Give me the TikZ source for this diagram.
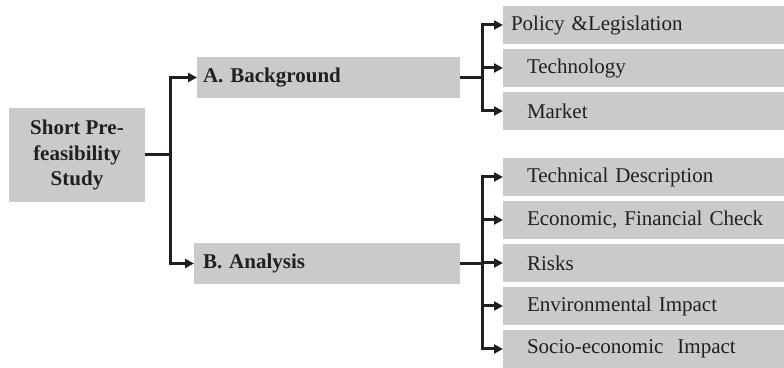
\documentclass[tikz,border=0pt]{standalone}
\usepackage{fontspec}
\setmainfont{Liberation Serif}
\usetikzlibrary{arrows.meta, positioning}
\definecolor{boxGray}{HTML}{C9CACC}
\definecolor{inkDark}{HTML}{231F20}
\tikzset{
  arrowK/.style={-{Triangle[length=4.5pt, width=4.5pt]}, inkDark, line width=1.5pt},
  boxMain/.style={rectangle, fill=boxGray, text=inkDark, align=center,
                  font=\bfseries\fontsize{10.5}{12.8}\selectfont, outer sep=0pt,
                  minimum width=68pt, minimum height=47pt, inner sep=0pt},
  boxMid/.style={rectangle, fill=boxGray, text=inkDark, align=left,
                 font=\bfseries\fontsize{10.5}{12.8}\selectfont, outer sep=0pt,
                 text width=123.5pt, inner xsep=4pt, inner ysep=0pt,
                 minimum height=20.5pt, anchor=west},
  boxSub/.style={rectangle, fill=boxGray, text=inkDark, align=left,
                 font=\fontsize{10.5}{12.8}\selectfont, outer sep=0pt,
                 text width=130pt, inner xsep=12pt, inner ysep=0pt,
                 minimum height=19pt},
}
\begin{document}
\begin{tikzpicture}[x=0.5pt, y=-0.5pt, node distance=2.5pt]
    \useasboundingbox (0,0) rectangle (784,368);
    \node[boxMain] (study) at (77,155) {Short Pre-\\feasibility\\Study};
    \node[boxMid, inner xsep=3pt, text width=125.5pt] (bg) at (197,77.5) {A. Background};
    \node[boxMid, inner xsep=4.5pt, text width=124pt] (an) at (194,263.5) {B. Analysis};
    % background topics
    \node[boxSub, anchor=north west, inner xsep=4pt, text width=146pt] (pol) at (503,6) {Policy \&Legislation};
    \node[boxSub, below=of pol.south west, anchor=north west] (tec) {Technology};
    \node[boxSub, below=of tec] (mkt) {Market};
    % analysis topics
    \node[boxSub, anchor=north west] (desc) at (503,158) {Technical Description};
    \node[boxSub, below=of desc] (econ) {Economic, Financial Check};
    \node[boxSub, below=of econ] (risk) {Risks};
    \node[boxSub, below=of risk] (env)  {Environmental Impact};
    \node[boxSub, below=of env]  (soc)  {Socio-economic\ \ Impact};
    \draw[arrowK] (study.east) -- ++(12.5pt,0) |- (bg.west);
    \draw[arrowK] (study.east) -- ++(12.5pt,0) |- (an.west);
    \foreach \n in {pol, tec, mkt}
      \draw[arrowK] (bg.east) -- ++(11pt,0) |- (\n.west);
    \foreach \n in {desc, econ, risk, env, soc}
      \draw[arrowK] (an.east) -- ++(11pt,0) |- (\n.west);
  \end{tikzpicture}
\end{document}
